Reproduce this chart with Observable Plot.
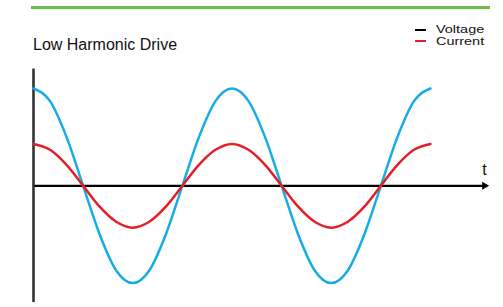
<!DOCTYPE html>
<html>
<head>
<meta charset="utf-8">
<script src="https://cdn.jsdelivr.net/npm/d3@7"></script>
<script src="https://cdn.jsdelivr.net/npm/@observablehq/plot@0.6"></script>
<style>
  html, body { margin: 0; padding: 0; background: #fff; }
  #wrap { position: relative; width: 503px; height: 307px; overflow: hidden; font-family: "Liberation Sans", Arial, sans-serif; }
  #header { position: relative; width: 503px; height: 60px; }
  #green { position: absolute; left: 31px; top: 6px; width: 459px; height: 2.5px; background: #6abf4b; }
  #title { position: absolute; left: 33px; top: 37px; font-size: 16px; line-height: 16px; color: #111; white-space: nowrap; }
  .leg { position: absolute; left: 436px; font-size: 13.5px; line-height: 13.5px; color: #111; white-space: nowrap; transform: scale(1.07, 0.78); transform-origin: left top; }
  .dash { position: absolute; left: 415px; width: 11px; height: 2px; }
  #chart svg { display: block; }
</style>
</head>
<body>
<div id="wrap">
  <div id="header">
    <div id="green"></div>
    <div id="title"></div>
    <div id="legend"></div>
  </div>
  <div id="chart"></div>
</div>
<script>
// Data
const title = "Low Harmonic Drive";
const seriesNames = ["Voltage", "Current"];
const legendColors = ["#000000", "#e41e26"];
const curveColors = ["#17ace6", "#e41e26"];
const axisLabel = "t";
// phase in degrees (two periods)
const phase = [0, 30, 60, 90, 120, 150, 180, 210, 240, 270, 300, 330, 360,
               390, 420, 450, 480, 510, 540, 570, 600, 630, 660, 690, 720];
const voltage = [10, 8.7, 5, 0, -5, -8.7, -10, -8.7, -5, 0, 5, 8.7, 10,
                 8.7, 5, 0, -5, -8.7, -10, -8.7, -5, 0, 5, 8.7, 10];
const current = [4.3, 3.7, 2.15, 0, -2.15, -3.7, -4.3, -3.7, -2.15, 0, 2.15, 3.7, 4.3,
                 3.7, 2.15, 0, -2.15, -3.7, -4.3, -3.7, -2.15, 0, 2.15, 3.7, 4.3];
const yAxisExtent = [-12, 12];
const xAxisEnd = 818;

document.getElementById("title").textContent = title;
const legend = document.getElementById("legend");
const legTops = [24.1, 36.1];
const dashTops = [29.3, 40.3];
seriesNames.forEach((name, i) => {
  const d = document.createElement("div");
  d.className = "dash";
  d.style.top = dashTops[i] + "px";
  d.style.background = legendColors[i];
  legend.appendChild(d);
  const t = document.createElement("div");
  t.className = "leg";
  t.style.top = legTops[i] + "px";
  t.textContent = name;
  legend.appendChild(t);
});

const vData = phase.map((p, i) => ({p, v: voltage[i]}));
const cData = phase.map((p, i) => ({p, v: current[i]}));

const chart = Plot.plot({
  width: 503,
  height: 247,
  marginLeft: 33,
  marginRight: 73,
  marginTop: 28,
  marginBottom: 24.4,
  x: {domain: [0, 720], axis: null},
  y: {domain: [-10, 10], axis: null},
  style: {fontFamily: "Liberation Sans, Arial, sans-serif", background: "#fff", overflow: "visible"},
  marks: [
    Plot.ruleY([0], {x1: 0, x2: xAxisEnd, stroke: "#000", strokeWidth: 2.2}),
    Plot.dot([0], {x: () => xAxisEnd, y: 0, symbol: "triangle", rotate: 90, r: 3, fill: "#000", stroke: "none"}),
    Plot.ruleX([0], {y1: yAxisExtent[0], y2: yAxisExtent[1], stroke: "#333", strokeWidth: 2.6}),
    Plot.line(vData, {x: "p", y: "v", stroke: curveColors[0], strokeWidth: 2.5, curve: "monotone-x"}),
    Plot.line(cData, {x: "p", y: "v", stroke: curveColors[1], strokeWidth: 2.5, curve: "monotone-x"}),
    Plot.text([axisLabel], {x: () => xAxisEnd, y: () => 1.6, text: d => d, fontSize: 16, fill: "#111", textAnchor: "middle"})
  ]
});
document.getElementById("chart").appendChild(chart);
</script>
</body>
</html>
